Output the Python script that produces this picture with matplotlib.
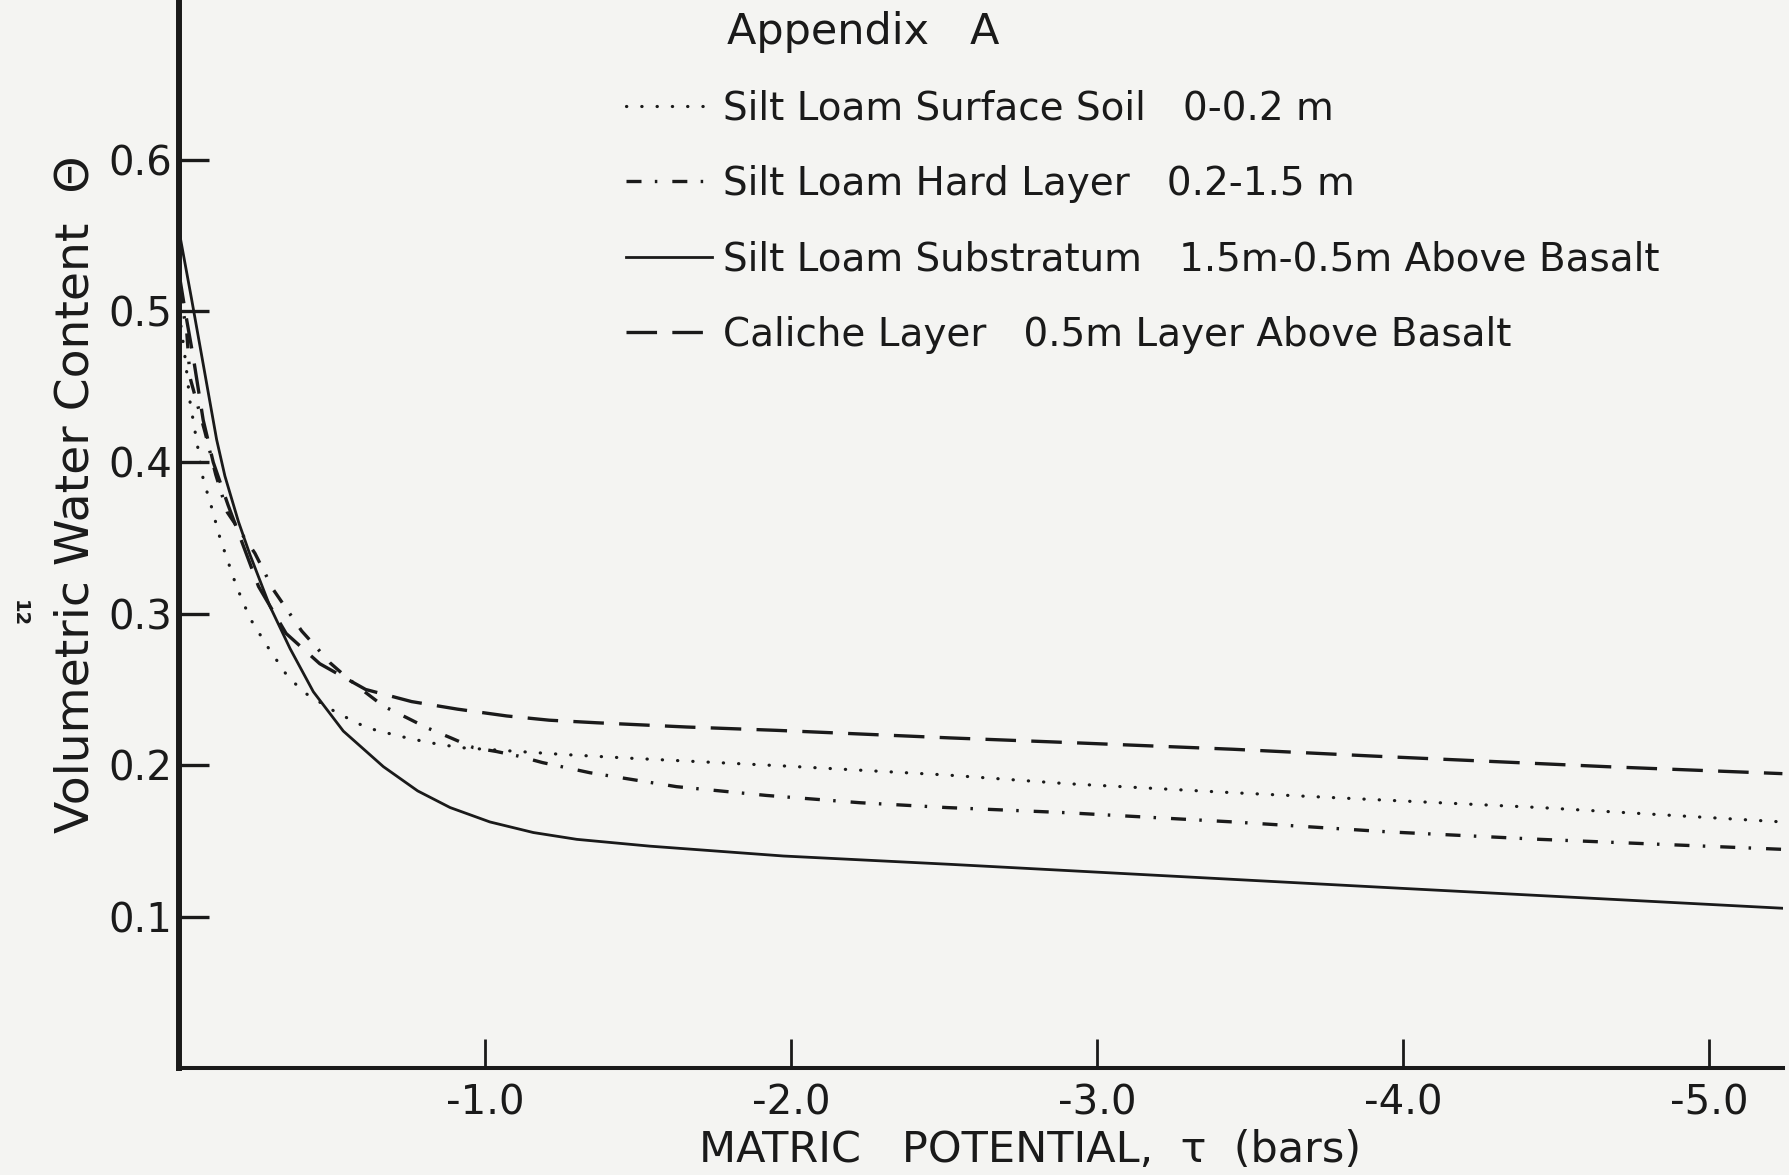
import matplotlib
matplotlib.use("Agg")
import matplotlib.pyplot as plt

# ---------------- data ----------------
# Silt Loam Surface Soil 0-0.2 m (dotted)
surface_x = [0.0, -0.02, -0.036, -0.052, -0.079, -0.107, -0.134, -0.188, -0.232, -0.287,
             -0.357, -0.417, -0.515, -0.613, -0.717, -0.815, -0.918, -1.261, -1.474,
             -1.975, -2.509, -2.90, -3.445, -3.952, -4.448, -5.24]
surface_y = [0.500, 0.469, 0.440, 0.421, 0.389, 0.370, 0.350, 0.318, 0.297, 0.279,
             0.258, 0.247, 0.2347, 0.2248, 0.2193, 0.215, 0.2116, 0.207, 0.2046,
             0.1995, 0.1935, 0.1878, 0.1818, 0.1768, 0.172, 0.1625]

# Silt Loam Hard Layer 0.2-1.5 m (dash-dot)
hard_x = [0.0, -0.025, -0.036, -0.085, -0.12, -0.158, -0.248, -0.308, -0.352, -0.401,
          -0.45, -0.493, -0.542, -0.597, -0.668, -0.744, -0.809, -0.891, -0.962, -1.038,
          -1.109, -1.188, -1.343, -1.626, -1.920, -2.225, -2.509, -2.90, -3.445, -3.947,
          -4.448, -5.24]
hard_y = [0.515, 0.487, 0.456, 0.420, 0.392, 0.367, 0.340, 0.316, 0.303, 0.2886,
          0.2776, 0.2677, 0.259, 0.250, 0.239, 0.2314, 0.2248, 0.2178, 0.2116, 0.209,
          0.206, 0.2017, 0.195, 0.1858, 0.180, 0.1752, 0.172, 0.1686, 0.1625, 0.156,
          0.151, 0.1444]

# Silt Loam Substratum 1.5 m-0.5 m Above Basalt (solid)
sub_x = [0.0, -0.041, -0.079, -0.123, -0.15, -0.194, -0.232, -0.297, -0.363, -0.439,
         -0.537, -0.668, -0.78, -0.886, -1.016, -1.158, -1.3, -1.539, -1.975, -2.52,
         -3.99, -5.24]
sub_y = [0.553, 0.508, 0.465, 0.415, 0.391, 0.361, 0.339, 0.305, 0.277, 0.2485,
         0.2225, 0.199, 0.183, 0.172, 0.1625, 0.1555, 0.151, 0.1465, 0.140, 0.1345,
         0.1187, 0.1055]

# Caliche Layer 0.5m Layer Above Basalt (dashed)
cal_x = [0.0, -0.02, -0.047, -0.079, -0.112, -0.16, -0.21, -0.26, -0.35, -0.46,
         -0.61, -0.76, -0.91, -1.071, -1.21, -1.365, -1.659, -1.953, -2.247, -2.52,
         -2.90, -3.445, -3.903, -4.666, -5.24]
cal_y = [0.525, 0.500, 0.469, 0.428, 0.400, 0.372, 0.345, 0.318, 0.287, 0.267,
         0.250, 0.242, 0.237, 0.2325, 0.2297, 0.228, 0.2252, 0.223, 0.2204, 0.218,
         0.215, 0.2105, 0.206, 0.199, 0.1944]

legend_labels = [
    "Silt Loam Surface Soil   0-0.2 m",
    "Silt Loam Hard Layer   0.2-1.5 m",
    "Silt Loam Substratum   1.5m-0.5m Above Basalt",
    "Caliche Layer   0.5m Layer Above Basalt",
]
title_text = "Appendix   A"
xlabel_text = "MATRIC   POTENTIAL,  \u03c4  (bars)"
ylabel_text = "Volumetric Water Content  \u0398"
page_number = "12"

xticks = [-1.0, -2.0, -3.0, -4.0, -5.0]
xtick_labels = ["-1.0", "-2.0", "-3.0", "-4.0", "-5.0"]
yticks = [0.1, 0.2, 0.3, 0.4, 0.5, 0.6]
ytick_labels = ["0.1", "0.2", "0.3", "0.4", "0.5", "0.6"]

# ---------------- style ----------------
BG = "#f4f4f2"
INK = "#1a1a1a"
plt.rcParams["font.family"] = ["DejaVu Sans"]
plt.rcParams["lines.scale_dashes"] = False
plt.rcParams["text.color"] = INK

fig = plt.figure(figsize=(17.9, 11.75), dpi=100, facecolor=BG)
ax = fig.add_axes([0.1000, 0.0911, 0.8961, 0.9089])
ax.set_facecolor(BG)

l_surf, = ax.plot(surface_x, surface_y, color=INK, lw=2.3,
                  linestyle=(0, (0.2, 10.8)), dash_capstyle="round")
l_hard, = ax.plot(hard_x, hard_y, color=INK, lw=2.4,
                  linestyle=(0, (10.8, 9.6, 1.8, 10.8)), dash_capstyle="butt")
l_sub, = ax.plot(sub_x, sub_y, color=INK, lw=2.0, linestyle="-")
l_cal, = ax.plot(cal_x, cal_y, color=INK, lw=2.4,
                 linestyle=(0, (22, 11)), dash_capstyle="butt")

ax.set_xlim(0, -5.242)
ax.set_ylim(0, 0.7054)

for side in ("top", "right"):
    ax.spines[side].set_visible(False)
ax.spines["left"].set_linewidth(4.3)
ax.spines["bottom"].set_linewidth(2.9)
ax.spines["left"].set_color(INK)
ax.spines["bottom"].set_color(INK)

ax.set_xticks(xticks, xtick_labels)
ax.set_yticks(yticks, ytick_labels)
ax.tick_params(axis="y", direction="in", length=21.6, width=2.4, pad=5,
               labelsize=29, colors=INK)
ax.tick_params(axis="x", direction="in", length=21, width=2.0, pad=11,
               labelsize=29, colors=INK)

ax.set_xlabel(xlabel_text, fontsize=31, va="center", color=INK)
ax.xaxis.set_label_coords(0.5305, -0.0768)
ax.set_ylabel(ylabel_text, fontsize=34, va="center", ha="center", color=INK)
ax.yaxis.set_label_coords(-0.0642, 0.5375)

leg = ax.legend(handles=[l_surf, l_hard, l_sub, l_cal], labels=legend_labels,
                loc="upper left", bbox_to_anchor=(0.2787, 0.916), frameon=False,
                fontsize=28, handlelength=2.2, handletextpad=0.3,
                labelspacing=0.96, borderpad=0, borderaxespad=0)
for t in leg.get_texts():
    t.set_color(INK)

ax.text(0.3416, 0.9696, title_text, transform=ax.transAxes, fontsize=31,
        ha="left", va="center", color=INK)

fig.text(19 / 1790, 1 - 614 / 1175, page_number, rotation=-90, fontsize=14,
         fontweight="bold", ha="center", va="center", color=INK)

fig.savefig("out.png", dpi=100, facecolor=BG)
